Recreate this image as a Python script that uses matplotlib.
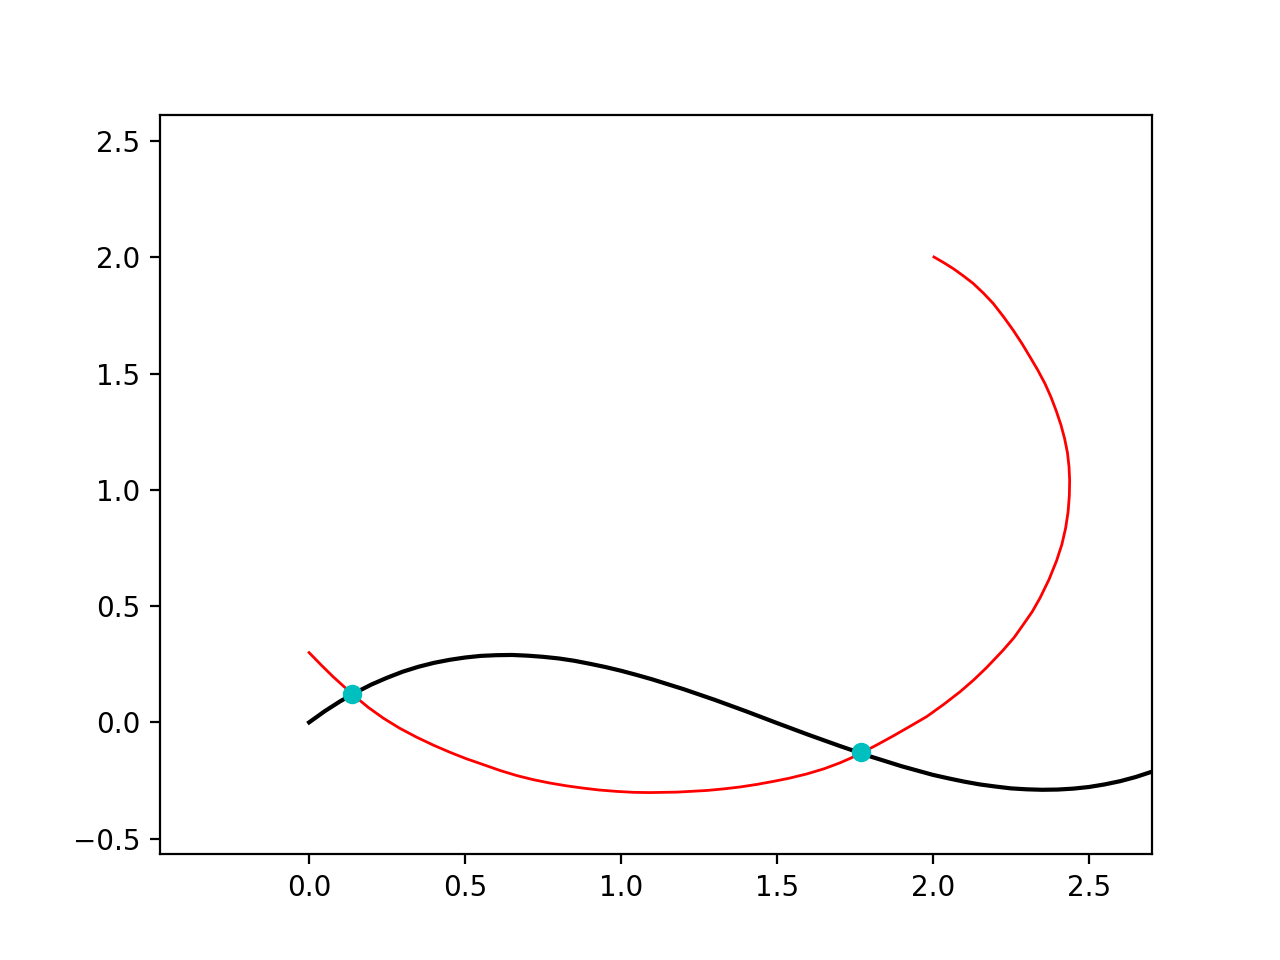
import matplotlib
matplotlib.use("Agg")
import matplotlib.pyplot as plt

# black curve
black_x = [0.0, 0.05, 0.1, 0.15, 0.2, 0.25, 0.3, 0.35, 0.4, 0.45, 0.5, 0.55, 0.6,
           0.65, 0.7, 0.75, 0.8, 0.85, 0.9, 0.95, 1.0, 1.05, 1.1, 1.2, 1.3, 1.4,
           1.5, 1.6, 1.7, 1.8, 1.9, 2.0, 2.05, 2.1, 2.15, 2.2, 2.25, 2.3, 2.35,
           2.4, 2.45, 2.5, 2.55, 2.6, 2.65, 2.7]
black_y = [0.0, 0.048, 0.091, 0.129, 0.163, 0.192, 0.218, 0.239, 0.256, 0.269,
           0.279, 0.286, 0.289, 0.290, 0.287, 0.282, 0.275, 0.265, 0.252, 0.238,
           0.222, 0.204, 0.185, 0.143, 0.097, 0.048, -0.003, -0.053, -0.101,
           -0.147, -0.189, -0.226, -0.241, -0.255, -0.267, -0.276, -0.284, -0.288,
           -0.290, -0.289, -0.285, -0.278, -0.267, -0.253, -0.235, -0.213]

# red curve
red_x = [0.000, 0.040, 0.078, 0.138, 0.190, 0.238, 0.290, 0.345, 0.400, 0.452,
         0.505, 0.559, 0.612, 0.666, 0.720, 0.772, 0.825, 0.879, 0.930, 0.986,
         1.040, 1.093, 1.180, 1.275, 1.330, 1.381, 1.435, 1.488, 1.540, 1.595,
         1.650, 1.702, 1.736, 1.771, 1.820, 1.873, 1.925, 1.980, 2.035, 2.087,
         2.130, 2.172, 2.223, 2.260, 2.289, 2.318, 2.343, 2.372, 2.396, 2.413,
         2.425, 2.433, 2.437, 2.438, 2.436, 2.431, 2.422, 2.410, 2.395, 2.378,
         2.359, 2.336, 2.311, 2.285, 2.257, 2.226, 2.193, 2.162, 2.129, 2.098,
         2.065, 2.034, 2.003]
red_y = [0.300, 0.245, 0.195, 0.122, 0.064, 0.018, -0.025, -0.064, -0.099, -0.129,
         -0.157, -0.182, -0.207, -0.229, -0.247, -0.261, -0.273, -0.283, -0.291, -0.297,
         -0.301, -0.302, -0.300, -0.293, -0.286, -0.278, -0.267, -0.254, -0.240, -0.222,
         -0.200, -0.174, -0.154, -0.131, -0.097, -0.058, -0.018, 0.025, 0.078, 0.132,
         0.182, 0.236, 0.308, 0.365, 0.420, 0.476, 0.535, 0.615, 0.695, 0.765,
         0.835, 0.905, 0.975, 1.040, 1.100, 1.160, 1.220, 1.280, 1.340, 1.400,
         1.457, 1.515, 1.572, 1.630, 1.687, 1.745, 1.802, 1.846, 1.888, 1.920,
         1.952, 1.978, 2.002]

# intersection points
cross_x = [0.138, 1.769]
cross_y = [0.120, -0.129]

fig, ax = plt.subplots(figsize=(6.4, 4.8), dpi=200)
ax.plot(black_x, black_y, color="k", linewidth=1.5)
ax.plot(red_x, red_y, color="r", linewidth=1.0)
ax.plot(cross_x, cross_y, "co")
ax.set_xlim(-0.478, 2.702)
ax.set_ylim(-0.568, 2.612)

fig.savefig("out.png", dpi=200)
